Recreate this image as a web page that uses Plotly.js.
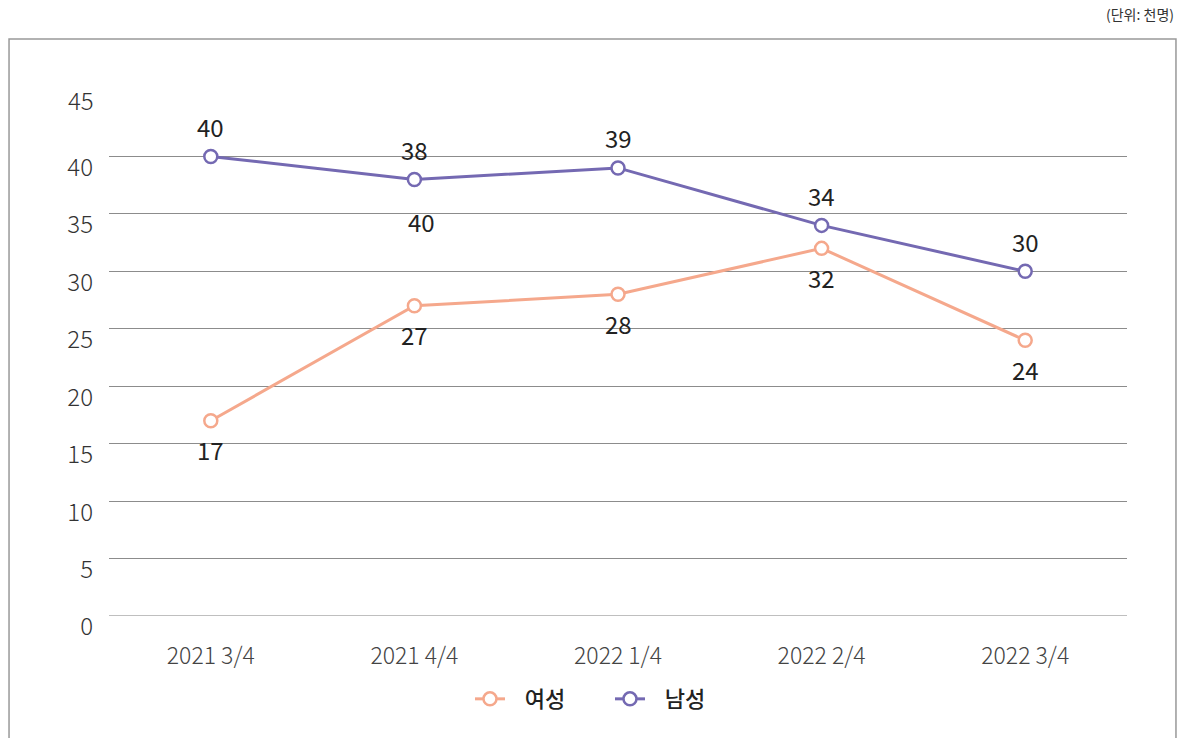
<!DOCTYPE html>
<html><head><meta charset="utf-8">
<script src="https://cdn.plot.ly/plotly-3.0.1.min.js"></script>
<style>html,body{margin:0;padding:0;background:#fff}#chart{width:1183px;height:738px}</style>
</head><body><div id="chart"></div>
<script>
const categories = ["2021 3/4", "2021 4/4", "2022 1/4", "2022 2/4", "2022 3/4"];
const femaleValues = [17, 27, 28, 32, 24];
const maleValues = [40, 38, 39, 34, 30];
const femaleName = "여성";
const maleName = "남성";
const unitLabel = "(단위: 천명)";
const strayLabel = {category: "2021 4/4", value: 38, text: "40"};
const yTicks = [0, 5, 10, 15, 20, 25, 30, 35, 40, 45];
const yTopTick = 45;

const FONT = '"Noto Sans CJK KR", "Noto Sans", sans-serif';
const femaleColor = "#f5a88c";
const maleColor = "#7469b2";
const pad = "\u00a0\u00a0\u00a0";

const traces = [
  {x: categories, y: femaleValues, name: pad + femaleName, type: "scatter", mode: "lines+markers",
   line: {color: femaleColor, width: 3},
   marker: {symbol: "circle", size: 13, color: "#fff", line: {color: femaleColor, width: 2.5}},
   cliponaxis: false},
  {x: categories, y: maleValues, name: pad + maleName, type: "scatter", mode: "lines+markers",
   line: {color: maleColor, width: 3},
   marker: {symbol: "circle", size: 13, color: "#fff", line: {color: maleColor, width: 2.5}},
   cliponaxis: false}
];

const labelFont = {family: FONT, size: 24, color: "#222"};
const tickFontY = {family: FONT, size: 24, color: "#333", weight: 300};
const dataAnnotations = [];
categories.forEach((c, i) => {
  dataAnnotations.push({xref: "x", yref: "y", x: c, y: maleValues[i], yshift: 30, text: String(maleValues[i]),
    showarrow: false, font: labelFont});
  dataAnnotations.push({xref: "x", yref: "y", x: c, y: femaleValues[i], yshift: -29, text: String(femaleValues[i]),
    showarrow: false, font: labelFont});
});

const layout = {
  width: 1183, height: 738,
  margin: {l: 109, r: 56, t: 99, b: 122},
  paper_bgcolor: "#fff", plot_bgcolor: "#fff",
  font: {family: FONT, color: "#333"},
  showlegend: true,
  legend: {orientation: "h", x: 0.3546, xanchor: "left", y: -0.12, yanchor: "top",
           font: {family: FONT, size: 22, color: "#222", weight: 500}, entrywidth: 95, entrywidthmode: "pixels",
           traceorder: "normal"},
  xaxis: {type: "category", range: [-0.5, 4.5], showgrid: false, zeroline: false, showline: false,
          ticks: "", tickfont: {family: FONT, size: 23, color: "#444", weight: 300}, ticklabelstandoff: 24, fixedrange: true},
  yaxis: {range: [0, 45], tickvals: yTicks, ticktext: yTicks.map(v => v === yTopTick ? "" : String(v)), showgrid: true,
          gridcolor: "#8c8c8c", gridwidth: 1, zeroline: false, showline: false, ticks: "",
          tickfont: tickFontY, ticklabelstandoff: 15, ticklabelshift: 11, fixedrange: true},
  shapes: [
    {type: "rect", xref: "paper", yref: "paper", x0: -0.0982, x1: 1.0481, y0: -0.26, y1: 1.116,
     line: {color: "#999", width: 1.5}, fillcolor: "rgba(0,0,0,0)", layer: "below"},
    {type: "line", xref: "paper", yref: "y", x0: 0, x1: 1, y0: 0, y1: 0, line: {color: "#aaa", width: 1.5}}
  ],
  annotations: [
    {xref: "paper", yref: "paper", x: 1.0481, y: 1.165, xanchor: "right", yanchor: "middle",
     text: unitLabel, showarrow: false, font: {family: FONT, size: 14, color: "#333"}},
    {xref: "paper", yref: "y", x: 0, y: yTopTick, xanchor: "right", yanchor: "middle", xshift: -13,
     text: String(yTopTick), showarrow: false, font: tickFontY},
    {xref: "x", yref: "y", x: strayLabel.category, y: strayLabel.value, yshift: -42, xshift: 7,
     text: strayLabel.text, showarrow: false, font: labelFont}
  ].concat(dataAnnotations)
};

Plotly.newPlot("chart", traces, layout, {displayModeBar: false, staticPlot: true});
</script></body></html>
